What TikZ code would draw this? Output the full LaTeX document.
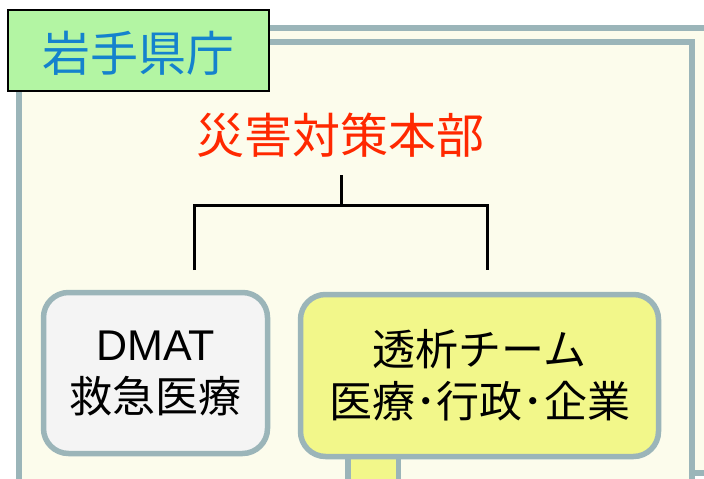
\documentclass[tikz,border=0pt]{standalone}
\usepackage{fontspec}
\setmainfont{Noto Sans CJK JP}
\newfontfamily\latinfont{Liberation Sans}
\definecolor{framegray}{RGB}{155,181,185}
\definecolor{creamfill}{RGB}{252,252,236}
\definecolor{labelgreen}{RGB}{179,245,163}
\definecolor{labelblue}{RGB}{20,130,205}
\definecolor{honbured}{RGB}{255,40,0}
\definecolor{dmatfill}{RGB}{244,244,244}
\definecolor{teamyellow}{RGB}{242,247,138}
\tikzset{
  unitbox/.style={draw=framegray, line width=5.5, rounded corners=25, align=center,
    font=\fontsize{43}{52}\selectfont, inner sep=0pt},
}
\begin{document}
\begin{tikzpicture}[x=1pt,y=1pt,yscale=-1]
			\useasboundingbox (0,0) rectangle (704,479);
			\clip (0,0) rectangle (704,479);
			
			%Outer frame
			\draw [draw=framegray, fill=creamfill, line width=5.5] (19,28) rectangle (730,473);
			%Inner frame
			\draw [draw=framegray, fill=creamfill, line width=5.5] (19,42) rectangle (692,510);
			
			%Label box
			\draw [fill=labelgreen, line width=2.5] (8,10) rectangle (269,91);
			% Text Node
			\draw (138.5,53) node (pref) [inner sep=0.75pt, text=labelblue, font=\fontsize{48}{48}\selectfont] {岩手県庁};
			
			% Text Node
			\draw (340,135) node (honbu) [inner sep=0.75pt, text=honbured, font=\fontsize{48}{48}\selectfont] {災害対策本部};
			
			%Connector
			\coordinate (stemtop) at (341,175);
			\coordinate (junction) at (341,205);
			\coordinate (dmatend) at (194,270);
			\coordinate (teamend) at (487,270);
			\draw [line width=3] (stemtop) -- (junction);
			\draw [line width=3] (dmatend) |- (junction) -| (teamend);
			
			%Team stem
			\draw [draw=framegray, fill=teamyellow, line width=5.5] (348,440) rectangle (398.5,510);
			
			% Unit boxes
			\draw (155.5,373) node (dmat) [unitbox, fill=dmatfill, minimum width=224, minimum height=161] {{\latinfont DMAT}\\救急医療};
			\draw (479.5,375.5) node (team) [unitbox, fill=teamyellow, minimum width=358, minimum height=162] {透析チーム\\医療･行政･企業};
			
		\end{tikzpicture}
\end{document}
